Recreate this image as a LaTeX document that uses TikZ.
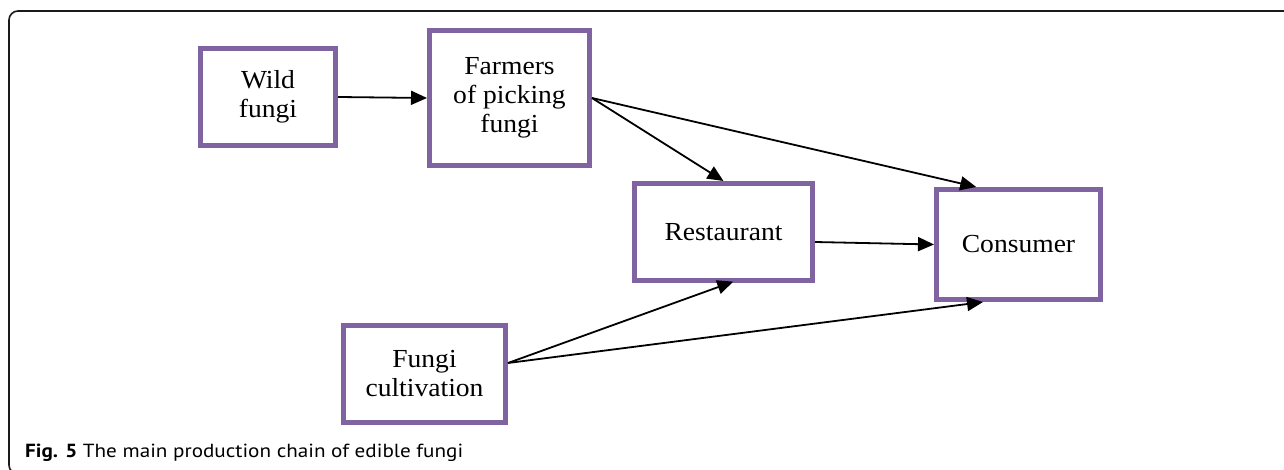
\documentclass[tikz,border=0pt]{standalone}
\usepackage{fontspec}
\setmainfont[FakeStretch=1.06]{Liberation Serif}
\newfontfamily\capfont{PT Sans}
\usetikzlibrary{arrows.meta,calc}
\definecolor{boxpurple}{HTML}{8064A2}
\definecolor{framegray}{HTML}{1A1A1A}
\tikzset{
  fbox/.style={draw=boxpurple, line width=5pt, fill=white, align=center, inner sep=0pt,
    font=\fontsize{26pt}{29pt}\selectfont},
  flow/.style={line width=1.8pt, -{Triangle[length=16pt,width=14pt]}}
}
\begin{document}
\begin{tikzpicture}[x=1pt,y=-1pt]
\useasboundingbox (0,0) rectangle (1284,470);
\clip (0,0) rectangle (1284,470);
\draw[framegray, line width=1.6pt, rounded corners=9pt] (1300,11) -- (9,11) -- (9,474) -- (1300,474);
\node[fbox, minimum width=135pt, minimum height=97pt] (wild) at (268,97) {Wild\\fungi};
\node[fbox, minimum width=160pt, minimum height=135pt] (farm) at (509.5,98) {Farmers\\of picking\\fungi};
\node[fbox, minimum width=178pt, minimum height=97pt] (rest) at (723.5,232) {Restaurant};
\node[fbox, minimum width=164pt, minimum height=110pt] (cons) at (1018.5,244.5) {Consumer};
\node[fbox, minimum width=162pt, minimum height=97pt] (cult) at (424.5,374) {Fungi\\cultivation};
\coordinate (cultout) at ([yshift=11pt]cult.east);
\draw[flow] (wild.east) -- (farm.west);
\draw[flow] (farm.east) -- (rest.north);
\draw[flow] (farm.east) -- ($(cons.north west)!0.25!(cons.north east)$);
\draw[flow] ([yshift=-10pt]rest.east) -- (cons.west);
\draw[flow, shorten >=-4pt] (cultout) -- ([xshift=6pt]rest.south);
\draw[flow] (cultout) -- ($(cons.south west)!0.29!(cons.south east)$);
\node[anchor=base west, inner sep=0pt] (cap) at (25,457) {\resizebox{438pt}{13.5pt}{\capfont\fontsize{17.5pt}{19pt}\selectfont\textbf{Fig. 5} The main production chain of edible fungi}};
\end{tikzpicture}
\end{document}
